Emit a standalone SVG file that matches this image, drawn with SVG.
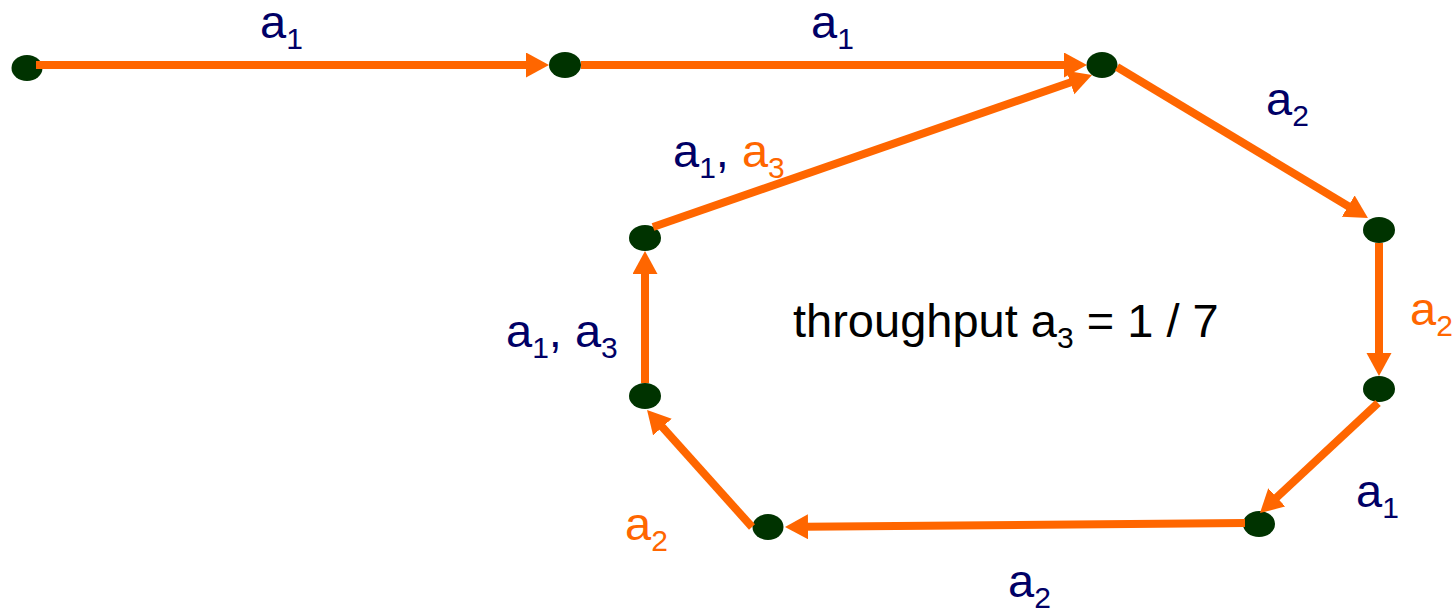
<svg xmlns="http://www.w3.org/2000/svg" width="1456" height="612" viewBox="0 0 1456 612">
<style>
.node{fill:#003300}
.edge{stroke:#FF6600;stroke-width:8;fill:none;marker-end:url(#ah)}
.lbl{font-family:"Liberation Sans",Arial,sans-serif;font-size:47px}
.nv{fill:#000066}
.or{fill:#FF6600}
.bk{fill:#000000}
.sub{font-size:30px}
</style>
<defs>
<marker id="ah" markerUnits="userSpaceOnUse" markerWidth="26" markerHeight="26" refX="3" refY="12.5" orient="auto" viewBox="0 0 26 26">
<path d="M0,0 L23,12.5 L0,25 z" fill="#FF6600"/>
</marker>
</defs>
<rect width="1456" height="612" fill="#ffffff"/>
<g id="nodes">
<g id="n1"><ellipse class="node" cx="27" cy="68" rx="15.5" ry="13"/></g>
<g id="n2"><ellipse class="node" cx="565" cy="65" rx="16" ry="13"/></g>
<g id="n3"><ellipse class="node" cx="1102" cy="65" rx="15.5" ry="13"/></g>
<g id="n4"><ellipse class="node" cx="1379" cy="230" rx="16" ry="13"/></g>
<g id="n5"><ellipse class="node" cx="1379" cy="389" rx="16" ry="13"/></g>
<g id="n6"><ellipse class="node" cx="1259" cy="524" rx="16" ry="13"/></g>
<g id="n7"><ellipse class="node" cx="768" cy="527" rx="15.5" ry="13"/></g>
<g id="n8"><ellipse class="node" cx="645" cy="396" rx="16" ry="13"/></g>
<g id="n9"><ellipse class="node" cx="645" cy="238" rx="16" ry="13"/></g>
</g>
<g id="connectors">
<line class="edge" x1="36" y1="65" x2="529" y2="65"/>
<line class="edge" x1="581" y1="65" x2="1067" y2="65"/>
<line class="edge" x1="1117" y1="67" x2="1350.8" y2="207.7"/>
<line class="edge" x1="1379" y1="243" x2="1379" y2="356"/>
<line class="edge" x1="1378" y1="403" x2="1274.6" y2="499.4"/>
<line class="edge" x1="1245" y1="523" x2="805" y2="526.8"/>
<line class="edge" x1="752" y1="527" x2="660.4" y2="424.8"/>
<line class="edge" x1="645" y1="383" x2="645" y2="271"/>
<line class="edge" x1="653" y1="227" x2="1073.1" y2="81.5"/>
</g>
<g id="labels">
<text class="lbl nv" x="260" y="38">a<tspan class="sub" dy="11">1</tspan></text>
<text class="lbl nv" x="811" y="38">a<tspan class="sub" dy="11">1</tspan></text>
<text class="lbl nv" x="1266" y="115">a<tspan class="sub" dy="11">2</tspan></text>
<text class="lbl nv" x="673" y="167">a<tspan class="sub" dy="11">1</tspan><tspan dy="-11">, </tspan><tspan class="or">a</tspan><tspan class="sub or" dy="11">3</tspan></text>
<text class="lbl or" x="1410" y="325">a<tspan class="sub" dy="11">2</tspan></text>
<text class="lbl bk" x="793" y="337">throughput a<tspan class="sub" dy="11">3</tspan><tspan dy="-11"> = 1 / 7</tspan></text>
<text class="lbl nv" x="506" y="347">a<tspan class="sub" dy="11">1</tspan><tspan dy="-11">, a</tspan><tspan class="sub" dy="11">3</tspan></text>
<text class="lbl nv" x="1356" y="507">a<tspan class="sub" dy="11">1</tspan></text>
<text class="lbl or" x="625" y="540">a<tspan class="sub" dy="11">2</tspan></text>
<text class="lbl nv" x="1008" y="597">a<tspan class="sub" dy="11">2</tspan></text>
</g>
</svg>
